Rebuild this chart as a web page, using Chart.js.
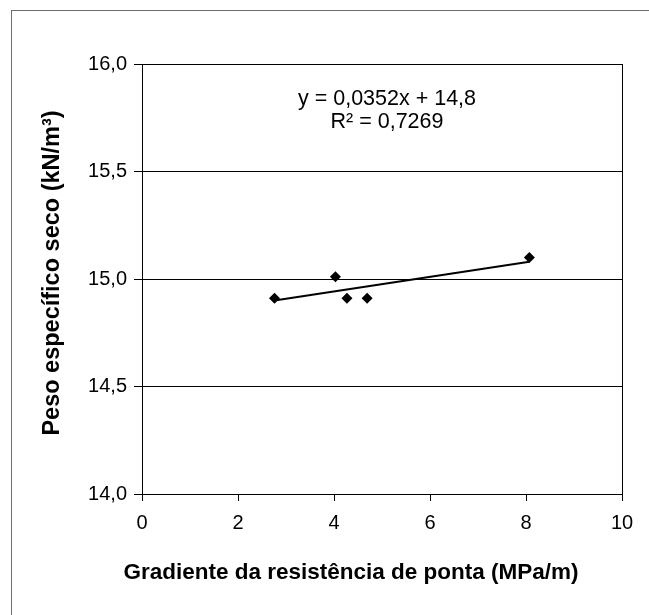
<!DOCTYPE html>
<html>
<head>
<meta charset="utf-8">
<script src="https://cdn.jsdelivr.net/npm/chart.js@4/dist/chart.umd.min.js"></script>
<style>
  html, body { margin: 0; padding: 0; background: #fff; overflow: hidden; }
  #wrap { position: relative; width: 649px; height: 615px; }
</style>
</head>
<body>
<div id="wrap"><canvas id="chart" width="649" height="615"></canvas></div>
<script>
// data
const gradX = [2.76, 4.03, 4.27, 4.69, 8.07];
const pesoY = [14.91, 15.01, 14.91, 14.91, 15.10];
// linear trend end points (y = 0,0352x + 14,8)
const trendX = [2.76, 8.07];
const trendY = [14.90, 15.08];
const xTicks = [0, 2, 4, 6, 8, 10];
const yTicks = [14.0, 14.5, 15.0, 15.5, 16.0];
const eqLines = ['y = 0,0352x + 14,8', 'R\u00B2 = 0,7269'];
const xTitle = 'Gradiente da resistência de ponta (MPa/m)';
const yTitle = 'Peso específico seco (kN/m\u00B3)';

const FONT = '"Liberation Sans", Arial, sans-serif';

const framePlugin = {
    id: 'frame',
    beforeDraw(chart) {
        const ctx = chart.ctx;
        ctx.save();
        ctx.fillStyle = '#fff';
        ctx.fillRect(0, 0, chart.width, chart.height);
        // outer chart frame, runs off the right / bottom edge
        ctx.strokeStyle = '#6e6e6e';
        ctx.lineWidth = 1;
        ctx.strokeRect(11.5, 10.5, 700, 700);
        ctx.restore();
    },
    beforeDatasetsDraw(chart) {
        const a = chart.chartArea;
        const ctx = chart.ctx;
        ctx.save();
        ctx.strokeStyle = '#000';
        ctx.lineWidth = 1;
        ctx.strokeRect(Math.round(a.left) + 0.5, Math.round(a.top) + 0.5,
            Math.round(a.right - a.left), Math.round(a.bottom - a.top));
        ctx.restore();
    },
    afterDraw(chart) {
        const ctx = chart.ctx;
        ctx.save();
        ctx.fillStyle = '#000';
        ctx.textAlign = 'center';
        ctx.textBaseline = 'middle';
        // trendline equation
        ctx.font = '21.5px ' + FONT;
        ctx.fillText(eqLines[0], 387, 99);
        ctx.fillText(eqLines[1], 387, 122);
        // axis titles
        ctx.font = 'bold 22.5px ' + FONT;
        ctx.fillText(xTitle, 351, 573);
        ctx.font = 'bold 23.5px ' + FONT;
        ctx.translate(53, 273);
        ctx.rotate(-Math.PI / 2);
        ctx.fillText(yTitle, 0, 0);
        ctx.restore();
    }
};

new Chart(document.getElementById('chart'), {
    type: 'scatter',
    data: {
        datasets: [
            {
                label: 'Peso específico seco',
                data: gradX.map((x, i) => ({ x: x, y: pesoY[i] })),
                pointStyle: 'rectRot',
                pointRadius: 5.5,
                backgroundColor: '#000',
                borderColor: '#000',
                borderWidth: 0,
                order: 1
            },
            {
                label: 'Linear',
                data: trendX.map((x, i) => ({ x: x, y: trendY[i] })),
                showLine: true,
                borderColor: '#000',
                borderWidth: 2,
                pointRadius: 0,
                order: 2
            }
        ]
    },
    options: {
        responsive: false,
        animation: false,
        layout: { padding: { left: 0, top: 64, right: 27, bottom: 0 } },
        plugins: {
            legend: { display: false },
            tooltip: { enabled: false },
            title: { display: false }
        },
        scales: {
            x: {
                type: 'linear',
                min: 0,
                max: 10,
                afterBuildTicks: (s) => { s.ticks = xTicks.map(v => ({ value: v })); },
                afterFit: (s) => { s.height = 121; },
                grid: { drawOnChartArea: false, drawTicks: true, tickLength: 7, color: '#000' },
                border: { display: true, color: '#000' },
                ticks: {
                    color: '#000',
                    font: { family: FONT, size: 20 },
                    padding: 10,
                    maxRotation: 0,
                    callback: (v) => String(v)
                }
            },
            y: {
                type: 'linear',
                min: 14,
                max: 16,
                afterBuildTicks: (s) => { s.ticks = yTicks.map(v => ({ value: v })); },
                afterFit: (s) => { s.width = 142; },
                grid: { drawOnChartArea: true, drawTicks: true, tickLength: 8, color: '#000' },
                border: { display: true, color: '#000' },
                ticks: {
                    color: '#000',
                    font: { family: FONT, size: 20 },
                    padding: 7,
                    callback: (v) => v.toFixed(1).replace('.', ',')
                }
            }
        }
    },
    plugins: [framePlugin]
});
</script>
</body>
</html>
